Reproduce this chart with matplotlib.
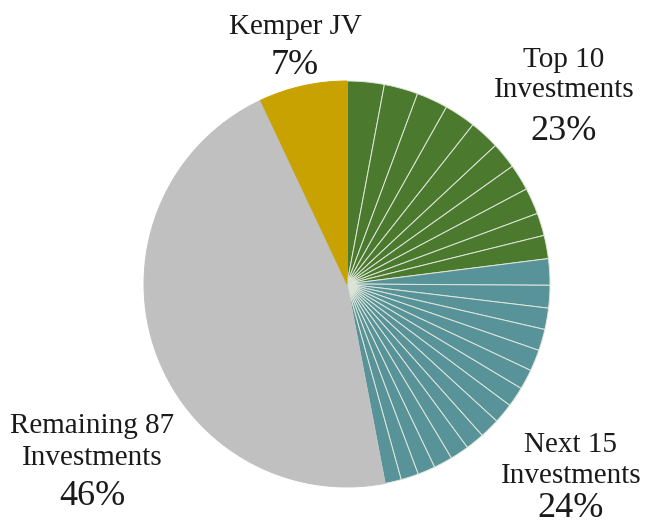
import matplotlib
matplotlib.use("Agg")
import matplotlib.pyplot as plt

# Data (percent of portfolio)
top10 = [2.95, 2.7, 2.5, 2.5, 2.4, 2.1, 2.1, 2.1, 1.8, 1.85]
next15 = [2.1, 1.8, 1.7, 1.7, 1.7, 1.6, 1.6, 1.6, 1.6, 1.5, 1.5, 1.5, 1.4, 1.4, 1.3]
remaining = [46.0]
kemper = [7.0]

group_names = [["Top 10", "Investments"], ["Next 15", "Investments"],
               ["Remaining 87", "Investments"], ["Kemper JV"]]
group_pcts = ["23%", "24%", "46%", "7%"]

c_green = "#4b7a2f"
c_teal = "#58939a"
c_gray = "#c0c0c0"
c_gold = "#c7a200"

values = top10 + next15 + remaining + kemper
colors = [c_green] * len(top10) + [c_teal] * len(next15) + [c_gray] + [c_gold]

W, H = 647, 524
fig = plt.figure(figsize=(W / 100, H / 100), dpi=100)
ax = fig.add_axes([0, 0, 1, 1])

cx, cy, r = 347, H - 284, 203
wedges, _ = ax.pie(values, colors=colors, startangle=90, counterclock=False,
                   center=(cx, cy), radius=r, frame=True,
                   wedgeprops=dict(linewidth=0.7))
n_striped = len(top10) + len(next15)
for i, w in enumerate(wedges):
    if i < n_striped:
        w.set_edgecolor("#dfe7da")
    else:
        w.set_edgecolor(w.get_facecolor())
ax.set_xlim(0, W)
ax.set_ylim(0, H)
ax.set_aspect("equal")
ax.axis("off")

font = ["Liberation Serif", "DejaVu Serif"]

def label(x, name_baselines, pct_baseline, names, pct):
    for yb, nm in zip(name_baselines, names):
        ax.text(x, H - yb, nm, ha="center", va="baseline", fontsize=21,
                family=font, color="#1a1a1a")
    ax.text(x, H - pct_baseline, pct, ha="center", va="baseline", fontsize=26,
            family=font, color="#1a1a1a")

label(564, [67, 97], 140, group_names[0], group_pcts[0])
label(571, [452, 483], 517, group_names[1], group_pcts[1])
label(92, [433, 465], 505, group_names[2], group_pcts[2])
label(295, [34], 74, group_names[3], group_pcts[3])

fig.savefig("out.png", dpi=100, facecolor="white")
